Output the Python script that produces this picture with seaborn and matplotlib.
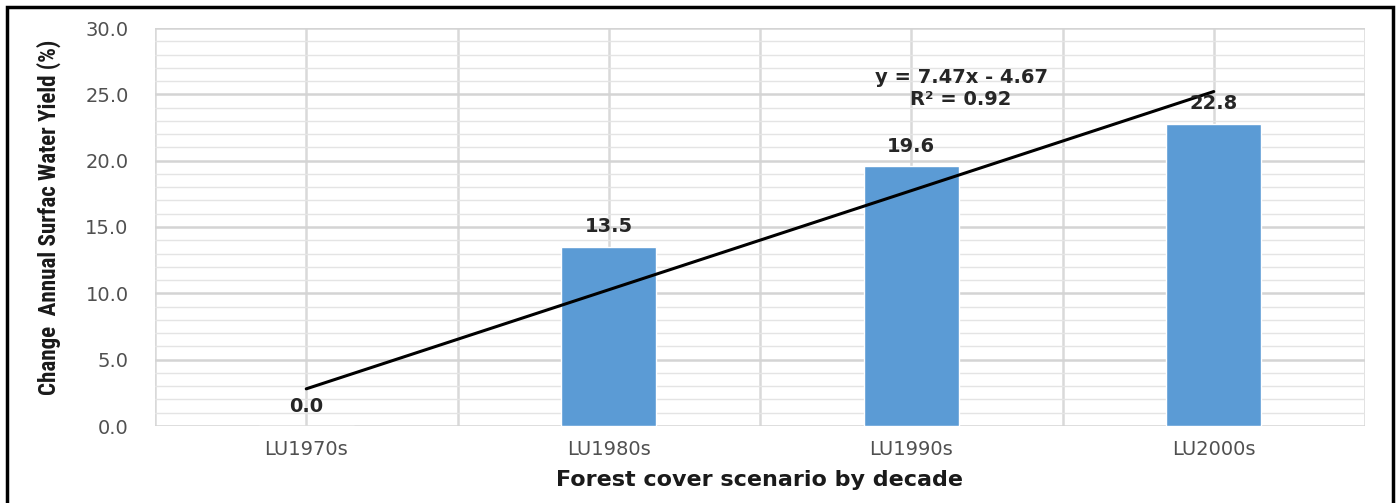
import matplotlib
matplotlib.use("Agg")
import matplotlib.pyplot as plt
import seaborn as sns
import pandas as pd
import numpy as np
from matplotlib.patches import Rectangle
from matplotlib.ticker import MultipleLocator, FixedLocator
from matplotlib import font_manager as fm

categories = ["LU1970s", "LU1980s", "LU1990s", "LU2000s"]
values = [0.0, 13.5, 19.6, 22.8]
trend_slope = 7.47
trend_intercept = -4.67
trend_r2 = 0.92
y_ticks = [0, 5, 10, 15, 20, 25, 30]

sns.set_theme(style="white")
plt.rcParams['font.family'] = ['DejaVu Sans']

names = {f.name for f in fm.fontManager.ttflist}
narrow_family = None
for cand in ["Liberation Sans Narrow", "Roboto Condensed", "Open Sans Condensed", "DejaVu Sans Condensed"]:
    if cand in names:
        narrow_family = cand
        break

df = pd.DataFrame({"scenario": categories, "change": values})

fig = plt.figure(figsize=(13.98, 5.03), dpi=100)
ax = fig.add_axes([155/1398, 1-426/503, (1365-155)/1398, (426-28)/503])

sns.barplot(data=df, x="scenario", y="change", order=categories, color="#5B9BD5",
            width=0.315, saturation=1, ax=ax, zorder=3)

xi = np.arange(len(categories))
trend_y = trend_slope * (xi + 1) + trend_intercept
ax.plot(xi, trend_y, color="black", lw=2.2, zorder=5)

ax.set_xlim(-0.5, 3.5)
ax.set_ylim(0, 30)
ax.set_yticks(y_ticks)
ax.set_yticklabels([f"{v:.1f}" for v in y_ticks])
ax.yaxis.set_minor_locator(MultipleLocator(1))
ax.xaxis.set_minor_locator(FixedLocator([-0.5, 0.5, 1.5, 2.5, 3.5]))
ax.grid(which="major", axis="y", color="#d4d4d4", lw=1.8, zorder=0)
ax.grid(which="minor", axis="y", color="#e4e4e4", lw=1.0, zorder=0)
ax.grid(which="both", axis="x", color="#d9d9d9", lw=1.8, zorder=0)
ax.set_axisbelow(True)
for s in ax.spines.values():
    s.set_visible(False)
ax.tick_params(axis="both", which="both", length=0)
ax.tick_params(axis="y", pad=19, labelsize=14, labelcolor="#505050")
ax.tick_params(axis="x", pad=10, labelsize=14, labelcolor="#505050")

for i, v in enumerate(values):
    ax.text(i, v + 1.5, f"{v:.1f}", ha="center", va="center", fontsize=14,
            fontweight="bold", color="#262626", zorder=6)

ax.text(2.165, 26.3, f"y = {trend_slope:.2f}x - {abs(trend_intercept):.2f}",
        ha="center", va="center", fontsize=14, fontweight="bold", color="#262626", zorder=6)
ax.text(2.165, 24.6, f"R² = {trend_r2:.2f}",
        ha="center", va="center", fontsize=14, fontweight="bold", color="#262626", zorder=6)

ax.set_xlabel("Forest cover scenario by decade", fontsize=16, fontweight="bold",
              color="#1a1a1a", labelpad=8)
ax.set_ylabel("")

ylab_kw = dict(rotation=90, ha="center", va="center", fontweight="bold", color="#1a1a1a")
if narrow_family:
    ylab_kw["family"] = [narrow_family, "DejaVu Sans"]
else:
    ylab_kw["fontstretch"] = "condensed"
ylab = fig.text(49/1398, 1-217/503, "Change  Annual Surfac Water Yield (%)", fontsize=16, **ylab_kw)
fig.canvas.draw()
h = ylab.get_window_extent().height
if h > 0:
    ylab.set_fontsize(16 * 355 / h)

fig.patches.append(Rectangle((7/1398, -0.05), (1393-7)/1398, 1.05 - 7/503,
                             transform=fig.transFigure, fill=False,
                             edgecolor="black", lw=2.5))

fig.savefig("out.png", dpi=100)
